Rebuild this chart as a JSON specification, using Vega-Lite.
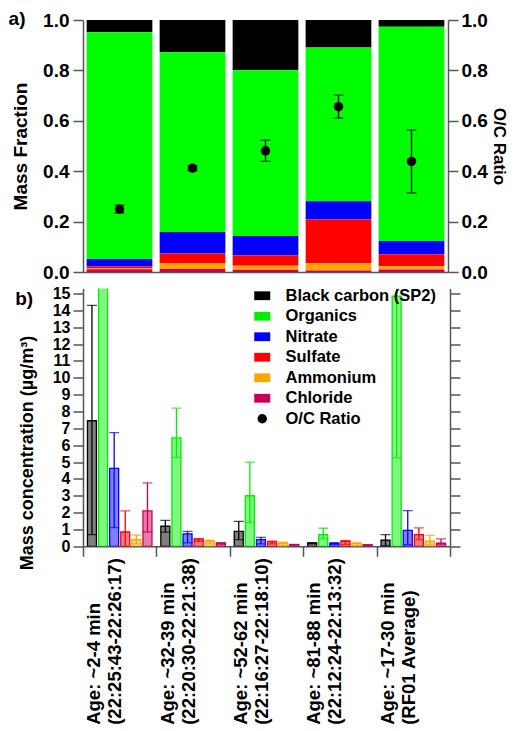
{
  "$schema": "https://vega.github.io/schema/vega-lite/v6.json",
  "padding": {"left": 8, "top": 10, "right": 0, "bottom": 0},
  "config": {
    "font": "Liberation Sans",
    "view": {"stroke": null},
    "axis": {
      "labelFont": "Liberation Sans", "labelFontWeight": "bold", "labelFontSize": 19, "labelColor": "#000",
      "titleFont": "Liberation Sans", "titleFontWeight": "bold", "titleFontSize": 19, "titleColor": "#000",
      "domainColor": "#555", "tickColor": "#555", "domainWidth": 1.5, "tickWidth": 1.5, "tickSize": 10, "grid": false, "labelOverlap": false
    },
    "title": {"font": "Liberation Sans", "fontWeight": "bold", "fontSize": 19, "color": "#000"}
  },
  "datasets": {
    "frac": [
      {"sample": "Age: ~2-4 min|(22:25:43-22:26:17)", "species": "Black carbon (SP2)", "frac": 0.049},
      {"sample": "Age: ~2-4 min|(22:25:43-22:26:17)", "species": "Organics", "frac": 0.899},
      {"sample": "Age: ~2-4 min|(22:25:43-22:26:17)", "species": "Nitrate", "frac": 0.030},
      {"sample": "Age: ~2-4 min|(22:25:43-22:26:17)", "species": "Sulfate", "frac": 0.006},
      {"sample": "Age: ~2-4 min|(22:25:43-22:26:17)", "species": "Ammonium", "frac": 0.005},
      {"sample": "Age: ~2-4 min|(22:25:43-22:26:17)", "species": "Chloride", "frac": 0.011},
      {"sample": "Age: ~32-39 min|(22:20:30-22:21:38)", "species": "Black carbon (SP2)", "frac": 0.128},
      {"sample": "Age: ~32-39 min|(22:20:30-22:21:38)", "species": "Organics", "frac": 0.713},
      {"sample": "Age: ~32-39 min|(22:20:30-22:21:38)", "species": "Nitrate", "frac": 0.086},
      {"sample": "Age: ~32-39 min|(22:20:30-22:21:38)", "species": "Sulfate", "frac": 0.037},
      {"sample": "Age: ~32-39 min|(22:20:30-22:21:38)", "species": "Ammonium", "frac": 0.024},
      {"sample": "Age: ~32-39 min|(22:20:30-22:21:38)", "species": "Chloride", "frac": 0.012},
      {"sample": "Age: ~52-62 min|(22:16:27-22:18:10)", "species": "Black carbon (SP2)", "frac": 0.199},
      {"sample": "Age: ~52-62 min|(22:16:27-22:18:10)", "species": "Organics", "frac": 0.658},
      {"sample": "Age: ~52-62 min|(22:16:27-22:18:10)", "species": "Nitrate", "frac": 0.077},
      {"sample": "Age: ~52-62 min|(22:16:27-22:18:10)", "species": "Sulfate", "frac": 0.041},
      {"sample": "Age: ~52-62 min|(22:16:27-22:18:10)", "species": "Ammonium", "frac": 0.016},
      {"sample": "Age: ~52-62 min|(22:16:27-22:18:10)", "species": "Chloride", "frac": 0.009},
      {"sample": "Age: ~81-88 min|(22:12:24-22:13:32)", "species": "Black carbon (SP2)", "frac": 0.109},
      {"sample": "Age: ~81-88 min|(22:12:24-22:13:32)", "species": "Organics", "frac": 0.610},
      {"sample": "Age: ~81-88 min|(22:12:24-22:13:32)", "species": "Nitrate", "frac": 0.073},
      {"sample": "Age: ~81-88 min|(22:12:24-22:13:32)", "species": "Sulfate", "frac": 0.173},
      {"sample": "Age: ~81-88 min|(22:12:24-22:13:32)", "species": "Ammonium", "frac": 0.029},
      {"sample": "Age: ~81-88 min|(22:12:24-22:13:32)", "species": "Chloride", "frac": 0.006},
      {"sample": "Age: ~17-30 min|(RF01 Average)", "species": "Black carbon (SP2)", "frac": 0.027},
      {"sample": "Age: ~17-30 min|(RF01 Average)", "species": "Organics", "frac": 0.850},
      {"sample": "Age: ~17-30 min|(RF01 Average)", "species": "Nitrate", "frac": 0.053},
      {"sample": "Age: ~17-30 min|(RF01 Average)", "species": "Sulfate", "frac": 0.047},
      {"sample": "Age: ~17-30 min|(RF01 Average)", "species": "Ammonium", "frac": 0.013},
      {"sample": "Age: ~17-30 min|(RF01 Average)", "species": "Chloride", "frac": 0.010}
    ],
    "oc": [
      {"sample": "Age: ~2-4 min|(22:25:43-22:26:17)", "oc": 0.249, "lo": 0.234, "hi": 0.265},
      {"sample": "Age: ~32-39 min|(22:20:30-22:21:38)", "oc": 0.412, "lo": 0.402, "hi": 0.422},
      {"sample": "Age: ~52-62 min|(22:16:27-22:18:10)", "oc": 0.481, "lo": 0.439, "hi": 0.523},
      {"sample": "Age: ~81-88 min|(22:12:24-22:13:32)", "oc": 0.656, "lo": 0.611, "hi": 0.702},
      {"sample": "Age: ~17-30 min|(RF01 Average)", "oc": 0.439, "lo": 0.314, "hi": 0.563}
    ],
    "conc": [
      {"sample": "Age: ~2-4 min|(22:25:43-22:26:17)", "species": "Black carbon (SP2)", "mean": 7.45, "lo": 0.69, "hi": 14.3},
      {"sample": "Age: ~2-4 min|(22:25:43-22:26:17)", "species": "Organics", "mean": 30, "lo": 16, "hi": 44},
      {"sample": "Age: ~2-4 min|(22:25:43-22:26:17)", "species": "Nitrate", "mean": 4.63, "lo": 1.11, "hi": 6.75},
      {"sample": "Age: ~2-4 min|(22:25:43-22:26:17)", "species": "Sulfate", "mean": 0.85, "lo": -0.05, "hi": 2.1},
      {"sample": "Age: ~2-4 min|(22:25:43-22:26:17)", "species": "Ammonium", "mean": 0.40, "lo": 0.14, "hi": 0.67},
      {"sample": "Age: ~2-4 min|(22:25:43-22:26:17)", "species": "Chloride", "mean": 2.1, "lo": 0.85, "hi": 3.76},
      {"sample": "Age: ~32-39 min|(22:20:30-22:21:38)", "species": "Black carbon (SP2)", "mean": 1.19, "lo": 0.84, "hi": 1.54},
      {"sample": "Age: ~32-39 min|(22:20:30-22:21:38)", "species": "Organics", "mean": 6.43, "lo": 5.28, "hi": 8.2},
      {"sample": "Age: ~32-39 min|(22:20:30-22:21:38)", "species": "Nitrate", "mean": 0.74, "lo": 0.2, "hi": 0.89},
      {"sample": "Age: ~32-39 min|(22:20:30-22:21:38)", "species": "Sulfate", "mean": 0.42, "lo": 0.3, "hi": 0.46},
      {"sample": "Age: ~32-39 min|(22:20:30-22:21:38)", "species": "Ammonium", "mean": 0.3, "lo": 0.14, "hi": 0.36},
      {"sample": "Age: ~32-39 min|(22:20:30-22:21:38)", "species": "Chloride", "mean": 0.18, "lo": 0.1, "hi": 0.22},
      {"sample": "Age: ~52-62 min|(22:16:27-22:18:10)", "species": "Black carbon (SP2)", "mean": 0.89, "lo": 0.4, "hi": 1.48},
      {"sample": "Age: ~52-62 min|(22:16:27-22:18:10)", "species": "Organics", "mean": 3.0, "lo": 1.4, "hi": 5.0},
      {"sample": "Age: ~52-62 min|(22:16:27-22:18:10)", "species": "Nitrate", "mean": 0.4, "lo": 0.14, "hi": 0.53},
      {"sample": "Age: ~52-62 min|(22:16:27-22:18:10)", "species": "Sulfate", "mean": 0.26, "lo": 0.14, "hi": 0.3},
      {"sample": "Age: ~52-62 min|(22:16:27-22:18:10)", "species": "Ammonium", "mean": 0.18, "lo": 0.02, "hi": 0.24},
      {"sample": "Age: ~52-62 min|(22:16:27-22:18:10)", "species": "Chloride", "mean": 0.1, "lo": 0.06, "hi": 0.12},
      {"sample": "Age: ~81-88 min|(22:12:24-22:13:32)", "species": "Black carbon (SP2)", "mean": 0.18, "lo": 0.15, "hi": 0.21},
      {"sample": "Age: ~81-88 min|(22:12:24-22:13:32)", "species": "Organics", "mean": 0.69, "lo": 0.46, "hi": 1.07},
      {"sample": "Age: ~81-88 min|(22:12:24-22:13:32)", "species": "Nitrate", "mean": 0.18, "lo": 0.1, "hi": 0.2},
      {"sample": "Age: ~81-88 min|(22:12:24-22:13:32)", "species": "Sulfate", "mean": 0.3, "lo": 0.12, "hi": 0.34},
      {"sample": "Age: ~81-88 min|(22:12:24-22:13:32)", "species": "Ammonium", "mean": 0.18, "lo": 0.02, "hi": 0.2},
      {"sample": "Age: ~81-88 min|(22:12:24-22:13:32)", "species": "Chloride", "mean": 0.08, "lo": 0.04, "hi": 0.1},
      {"sample": "Age: ~17-30 min|(RF01 Average)", "species": "Black carbon (SP2)", "mean": 0.36, "lo": 0.02, "hi": 0.69},
      {"sample": "Age: ~17-30 min|(RF01 Average)", "species": "Organics", "mean": 14.84, "lo": 5.25, "hi": 24.4},
      {"sample": "Age: ~17-30 min|(RF01 Average)", "species": "Nitrate", "mean": 0.95, "lo": 0.1, "hi": 2.12},
      {"sample": "Age: ~17-30 min|(RF01 Average)", "species": "Sulfate", "mean": 0.69, "lo": 0.4, "hi": 1.09},
      {"sample": "Age: ~17-30 min|(RF01 Average)", "species": "Ammonium", "mean": 0.3, "lo": 0.1, "hi": 0.65},
      {"sample": "Age: ~17-30 min|(RF01 Average)", "species": "Chloride", "mean": 0.18, "lo": 0.1, "hi": 0.44}
    ]
  },
  "resolve": {"scale": {"color": "independent"}},
  "spacing": 3.5,
  "vconcat": [
    {
      "width": 365,
      "height": 252,
      "title": {"text": "a)", "anchor": "start", "frame": "bounds", "offset": 0, "dx": -3, "dy": 18},
      "layer": [
        {
          "data": {"name": "frac"},
          "transform": [{"calculate": "indexof(['Chloride','Ammonium','Sulfate','Nitrate','Organics','Black carbon (SP2)'], datum.species)", "as": "ord"}],
          "mark": {"type": "bar"},
          "encoding": {
            "x": {"field": "sample", "type": "nominal", "sort": null, "scale": {"paddingInner": 0.1, "paddingOuter": 0.05}, "axis": {"title": null, "labels": false, "ticks": false}},
            "y": {"field": "frac", "type": "quantitative", "stack": "zero", "scale": {"domain": [0, 1], "nice": false}, "axis": {"title": "Mass Fraction", "values": [0, 0.2, 0.4, 0.6, 0.8, 1], "format": ".1f", "labelPadding": 4, "titlePadding": 12}},
            "color": {"field": "species", "type": "nominal", "scale": {"domain": ["Black carbon (SP2)", "Organics", "Nitrate", "Sulfate", "Ammonium", "Chloride", "O/C Ratio"], "range": ["#000000", "#00ff00", "#0000ff", "#ff0000", "#ffa500", "#c8005a", "#000000"]}, "legend": null},
            "order": {"field": "ord", "type": "quantitative", "sort": "ascending"}
          }
        },
        {
          "data": {"name": "oc"},
          "encoding": {
            "x": {"field": "sample", "type": "nominal", "sort": null}
          },
          "layer": [
            {
              "mark": {"type": "rule", "color": "#000", "strokeWidth": 1.3},
              "encoding": {
                "y": {"field": "lo", "type": "quantitative", "scale": {"domain": [0, 1], "nice": false}, "axis": {"orient": "right", "title": "O/C Ratio", "titleFontSize": 17, "values": [0, 0.2, 0.4, 0.6, 0.8, 1], "format": ".1f", "labelPadding": 3, "titlePadding": 2}},
                "y2": {"field": "hi"}
              }
            },
            {
              "mark": {"type": "tick", "color": "#000", "size": 10, "thickness": 1.3},
              "encoding": {"y": {"field": "lo", "type": "quantitative"}}
            },
            {
              "mark": {"type": "tick", "color": "#000", "size": 10, "thickness": 1.3},
              "encoding": {"y": {"field": "hi", "type": "quantitative"}}
            },
            {
              "mark": {"type": "point", "filled": true, "color": "#000", "opacity": 1, "size": 90},
              "encoding": {"y": {"field": "oc", "type": "quantitative"}}
            }
          ]
        }
      ],
      "resolve": {"scale": {"y": "independent"}}
    },
    {
      "width": 367,
      "height": 257.8,
      "title": {"text": "b)", "anchor": "start", "frame": "bounds", "offset": 0, "dx": -3, "dy": 23},
      "data": {"name": "conc"},
      "encoding": {
        "x": {"field": "sample", "type": "nominal", "sort": null, "scale": {"paddingInner": 0, "paddingOuter": 0},
          "axis": {"title": null, "labelAngle": -90, "labelAlign": "left", "labelBaseline": "middle", "labelPadding": 168, "labelOffset": -26, "tickBand": "extent", "labelExpr": "split(datum.label, '|')", "labelLineHeight": 21, "labelFontSize": 18.5}},
        "xOffset": {"field": "species", "type": "nominal", "sort": ["Black carbon (SP2)", "Organics", "Nitrate", "Sulfate", "Ammonium", "Chloride"], "scale": {"paddingInner": 0.19, "paddingOuter": 0.4}}
      },
      "layer": [
        {
          "mark": {"type": "bar", "fillOpacity": 0.5, "strokeWidth": 1.3, "clip": true},
          "encoding": {
            "y": {"field": "mean", "type": "quantitative", "scale": {"domain": [0, 15.3], "nice": false},
              "axis": {"title": "Mass concentration (µg/m³)", "titleFontSize": 18, "titleY": 164, "values": [0, 1, 2, 3, 4, 5, 6, 7, 8, 9, 10, 11, 12, 13, 14, 15], "labelFontSize": 16, "labelPadding": 3, "titlePadding": 16}},
            "color": {"field": "species", "type": "nominal",
              "scale": {"domain": ["Black carbon (SP2)", "Organics", "Nitrate", "Sulfate", "Ammonium", "Chloride", "O/C Ratio"], "range": ["#000000", "#00ee00", "#0000ff", "#ff0000", "#ffa500", "#c8005a", "#000000"]},
              "legend": {"orient": "none", "legendX": 171, "legendY": -1, "title": null, "labelFontSize": 16.5, "labelFontWeight": "bold", "labelFont": "Liberation Sans", "labelColor": "#000",
                "symbolType": "M-1,-0.55H1V0.55H-1Z", "symbolSize": 256, "labelOffset": 15, "rowPadding": 3.5, "padding": 0,
                "encode": {"symbols": {"update": {
                  "shape": {"signal": "datum.value === 'O/C Ratio' ? 'circle' : 'M-1,-0.55H1V0.55H-1Z'"},
                  "size": {"signal": "datum.value === 'O/C Ratio' ? 90 : 256"},
                  "fillOpacity": {"value": 1}, "opacity": {"value": 1}, "strokeWidth": {"value": 0}}}}}},
            "stroke": {"field": "species", "type": "nominal", "scale": {"domain": ["Black carbon (SP2)", "Organics", "Nitrate", "Sulfate", "Ammonium", "Chloride"], "range": ["#000000", "#00ee00", "#0000ff", "#ff0000", "#ffa500", "#c8005a"]}, "legend": null}
          }
        },
        {
          "mark": {"type": "rule", "strokeWidth": 1.3, "clip": true},
          "encoding": {
            "y": {"field": "lo", "type": "quantitative", "axis": null},
            "y2": {"field": "hi"},
            "color": {"field": "species", "type": "nominal"}
          }
        },
        {
          "mark": {"type": "tick", "size": 10, "thickness": 1.3, "clip": true},
          "encoding": {
            "y": {"field": "lo", "type": "quantitative", "axis": null},
            "color": {"field": "species", "type": "nominal"}
          }
        },
        {
          "mark": {"type": "tick", "size": 10, "thickness": 1.3, "clip": true},
          "encoding": {
            "y": {"field": "hi", "type": "quantitative", "axis": {"orient": "right", "title": null, "labels": false, "values": [0, 1, 2, 3, 4, 5, 6, 7, 8, 9, 10, 11, 12, 13, 14, 15]}},
            "color": {"field": "species", "type": "nominal"}
          }
        }
      ],
      "resolve": {"axis": {"y": "independent"}}
    }
  ]
}
